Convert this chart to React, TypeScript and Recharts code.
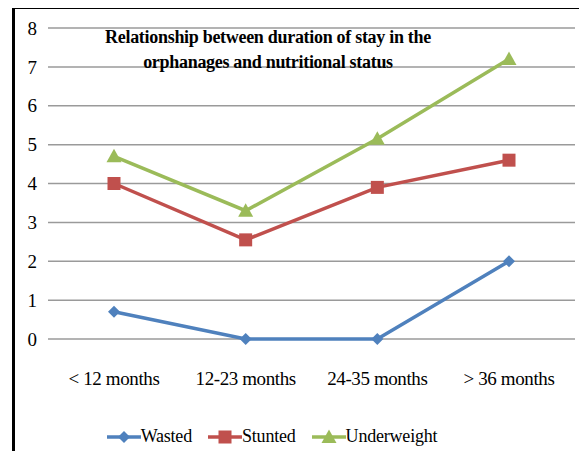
import { LineChart, Line, XAxis, YAxis, CartesianGrid, Legend } from "recharts"

const categories = ["< 12 months", "12-23 months", "24-35 months", "> 36 months"]
const wasted = [0.7, 0, 0, 2]
const stunted = [4, 2.55, 3.9, 4.6]
const underweight = [4.7, 3.3, 5.15, 7.2]
const yTicks = [0, 1, 2, 3, 4, 5, 6, 7, 8]

const data = categories.map((name, i) => ({
  name,
  wasted: wasted[i],
  stunted: stunted[i],
  underweight: underweight[i],
}))

const serif = "Liberation Serif"

const colors = {
  wasted: "#4f81bd",
  stunted: "#c0504d",
  underweight: "#9bbb59",
}

function Marker({ kind, cx, cy, color }: { kind: string; cx: number; cy: number; color: string }) {
  if (kind === "diamond") {
    const r = 6
    return <path d={`M${cx},${cy - r} L${cx + r},${cy} L${cx},${cy + r} L${cx - r},${cy} Z`} fill={color} />
  }
  if (kind === "square") {
    const r = 6.5
    return <rect x={cx - r} y={cy - r} width={r * 2} height={r * 2} fill={color} />
  }
  const r = 7.5
  return <path d={`M${cx},${cy - r} L${cx + r},${cy + r * 0.8} L${cx - r},${cy + r * 0.8} Z`} fill={color} />
}

const dotFor = (kind: string, color: string) => (props: any) => {
  const { cx, cy, index } = props
  if (cx == null || cy == null) return <g key={index} />
  return <Marker key={index} kind={kind} cx={cx} cy={cy} color={color} />
}

const legendItems = [
  { label: "Wasted", kind: "diamond", color: colors.wasted },
  { label: "Stunted", kind: "square", color: colors.stunted },
  { label: "Underweight", kind: "triangle", color: colors.underweight },
]

function LegendContent() {
  return (
    <div
      style={{
        display: "flex",
        justifyContent: "center",
        gap: 16,
        fontFamily: serif,
        fontSize: 18,
        letterSpacing: -0.2,
        paddingRight: 44,
      }}
    >
      {legendItems.map((it) => (
        <div key={it.label} style={{ display: "flex", alignItems: "center" }}>
          <svg width={34} height={16}>
            <line x1={0} y1={8} x2={34} y2={8} stroke={it.color} strokeWidth={3.5} />
            <Marker kind={it.kind} cx={17} cy={8} color={it.color} />
          </svg>
          <span style={{ color: "#000" }}>{it.label}</span>
        </div>
      ))}
    </div>
  )
}

const tickStyle = { fontFamily: serif, fontSize: 19, fill: "#000" }

export default function App() {
  return (
    <div style={{ position: "relative", width: 587, height: 459, margin: -8, background: "#fff", overflow: "hidden", fontFamily: serif }}>
      <div
        style={{
          position: "absolute",
          left: 12,
          top: 6,
          width: 600,
          height: 480,
          border: "3px solid #000",
          boxSizing: "border-box",
        }}
      />
      <LineChart width={587} height={459} data={data} margin={{ top: 28, right: 12, left: 13, bottom: 0 }}>
        <CartesianGrid vertical={false} stroke="#9a9a9a" strokeWidth={1.5} />
        <XAxis
          dataKey="name"
          axisLine={false}
          tickLine={false}
          tickMargin={27}
          height={64}
          padding={{ left: 66, right: 66 }}
          tick={{ ...tickStyle, letterSpacing: -0.4 }}
        />
        <YAxis
          domain={[0, 8]}
          ticks={yTicks}
          axisLine={false}
          tickLine={false}
          width={35}
          tickMargin={5}
          tick={tickStyle}
        />
        <Legend verticalAlign="bottom" height={56} wrapperStyle={{ top: 426 }} content={<LegendContent />} />
        <Line
          dataKey="wasted"
          stroke={colors.wasted}
          strokeWidth={3.5}
          dot={dotFor("diamond", colors.wasted)}
          activeDot={false}
          isAnimationActive={false}
        />
        <Line
          dataKey="stunted"
          stroke={colors.stunted}
          strokeWidth={3.5}
          dot={dotFor("square", colors.stunted)}
          activeDot={false}
          isAnimationActive={false}
        />
        <Line
          dataKey="underweight"
          stroke={colors.underweight}
          strokeWidth={3.5}
          dot={dotFor("triangle", colors.underweight)}
          activeDot={false}
          isAnimationActive={false}
        />
      </LineChart>
      <div
        style={{
          position: "absolute",
          left: 68,
          width: 400,
          top: 25,
          textAlign: "center",
          fontFamily: serif,
          fontWeight: "bold",
          fontSize: 18,
          letterSpacing: -0.3,
          lineHeight: "25px",
          color: "#000",
        }}
      >
        Relationship between duration of stay in the
        <br />
        orphanages and nutritional status
      </div>
    </div>
  )
}
